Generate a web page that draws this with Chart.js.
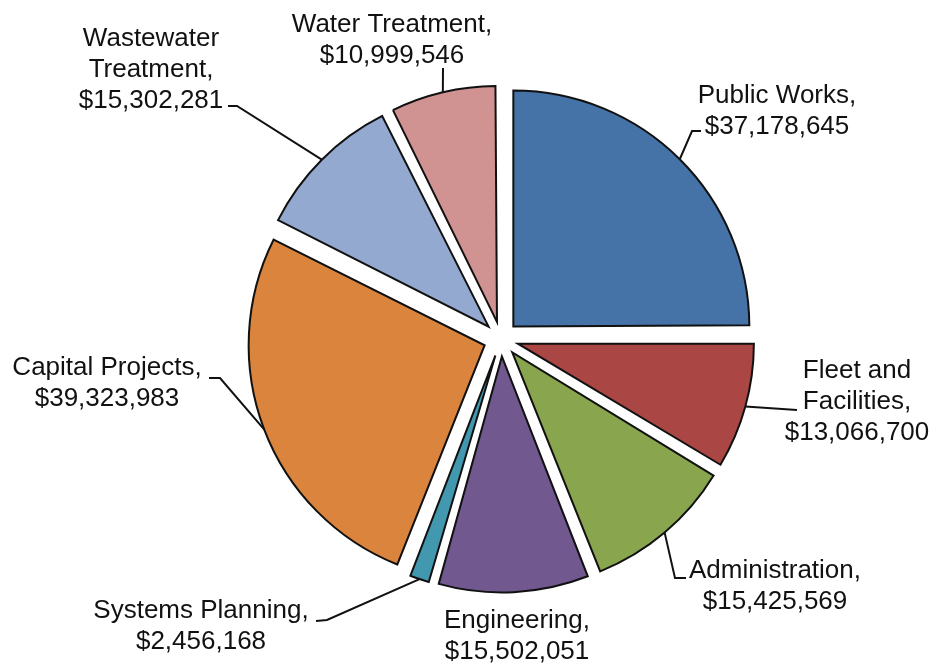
<!DOCTYPE html>
<html>
<head>
<meta charset="utf-8">
<title>Budget by Division</title>
<script src="https://cdn.jsdelivr.net/npm/chart.js@4/dist/chart.umd.min.js"></script>
<style>
  html, body { margin: 0; padding: 0; background: #fff; }
  #wrap { width: 934px; height: 666px; }
</style>
</head>
<body>
<div id="wrap"><canvas id="pie" width="934" height="666"></canvas></div>
<script>
// Division budgets, clockwise from 12 o'clock
const divisions = [
  'Public Works', 'Fleet and Facilities', 'Administration', 'Engineering',
  'Systems Planning', 'Capital Projects', 'Wastewater Treatment', 'Water Treatment'
];
const budgets = [37178645, 13066700, 15425569, 15502051, 2456168, 39323983, 15302281, 10999546];
const sliceColors = ['#4572A7', '#AA4643', '#89A54E', '#71588F', '#4198AF', '#DB843D', '#93A9CF', '#D19392'];

// Label placement: words per text line, text centre x, first baseline y,
// and the bend points of each leader line (leader starts on the slice's arc).
const labelLayout = [
  { words: [2],    x: 777, y: 103, leader: [[692, 131], [701, 131]] },
  { words: [2, 1], x: 857, y: 378, leader: [[797, 410]] },
  { words: [1],    x: 775, y: 578, leader: [[675, 578], [686, 578]] },
  { words: [1],    x: 517, y: 628, leader: [] },
  { words: [2],    x: 201, y: 618, leader: [[327, 620], [316, 621]] },
  { words: [2],    x: 107, y: 375, leader: [[220, 378], [209, 378]] },
  { words: [1, 1], x: 151, y: 46,  leader: [[237, 106], [228, 106]] },
  { words: [2],    x: 392, y: 32,  leader: [[443, 68]] }
];
const LINE_HEIGHT = 31;

// Exploded slices keep one common radius: undo the extra radius Chart.js
// adds to offset arcs whose sweep is far from a right angle.
const baseArcDraw = Chart.ArcElement.prototype.draw;
Chart.ArcElement.prototype.draw = function (ctx) {
  const shift = (this.options.offset || 0) / 4;
  const grow = shift * (1 - Math.sin(Math.min(Math.PI, this.circumference || 0)));
  const r = this.outerRadius;
  this.outerRadius = r - grow;
  baseArcDraw.call(this, ctx);
  this.outerRadius = r;
};

function labelLines(i) {
  const words = divisions[i].split(' ');
  const lines = [];
  let k = 0;
  labelLayout[i].words.forEach(n => {
    lines.push(words.slice(k, k + n).join(' '));
    k += n;
  });
  lines[lines.length - 1] += ',';
  lines.push('$' + budgets[i].toLocaleString('en-US'));
  return lines;
}

const calloutPlugin = {
  id: 'callouts',
  afterDatasetsDraw(chart) {
    const ctx = chart.ctx;
    const meta = chart.getDatasetMeta(0);
    ctx.save();
    // leader lines from the middle of each slice's outer arc
    ctx.strokeStyle = '#111';
    ctx.lineWidth = 2;
    meta.data.forEach((arc, i) => {
      const pts = labelLayout[i].leader;
      if (!pts.length) return;
      const mid = (arc.startAngle + arc.endAngle) / 2;
      const shift = (arc.options.offset || 0) / 4;
      const rr = arc.outerRadius + shift;
      const ax = arc.x + Math.cos(mid) * rr;
      const ay = arc.y + Math.sin(mid) * rr;
      ctx.beginPath();
      ctx.moveTo(ax, ay);
      pts.forEach(p => ctx.lineTo(p[0], p[1]));
      ctx.stroke();
    });
    // label text
    ctx.fillStyle = '#111';
    ctx.font = '26px "Liberation Sans", Arial, sans-serif';
    ctx.textAlign = 'center';
    ctx.textBaseline = 'alphabetic';
    labelLayout.forEach((lay, i) => {
      labelLines(i).forEach((t, j) => ctx.fillText(t, lay.x, lay.y + j * LINE_HEIGHT));
    });
    ctx.restore();
  }
};

new Chart(document.getElementById('pie'), {
  type: 'pie',
  data: {
    labels: divisions,
    datasets: [{
      data: budgets,
      backgroundColor: sliceColors,
      borderColor: '#111',
      borderWidth: 2,
      borderJoinStyle: 'miter',
      offset: 70,
      radius: 236
    }]
  },
  options: {
    responsive: false,
    animation: false,
    layout: { padding: { left: 68, right: 0, top: 12, bottom: 0 } },
    plugins: {
      legend: { display: false },
      tooltip: { enabled: false }
    }
  },
  plugins: [calloutPlugin]
});
</script>
</body>
</html>
